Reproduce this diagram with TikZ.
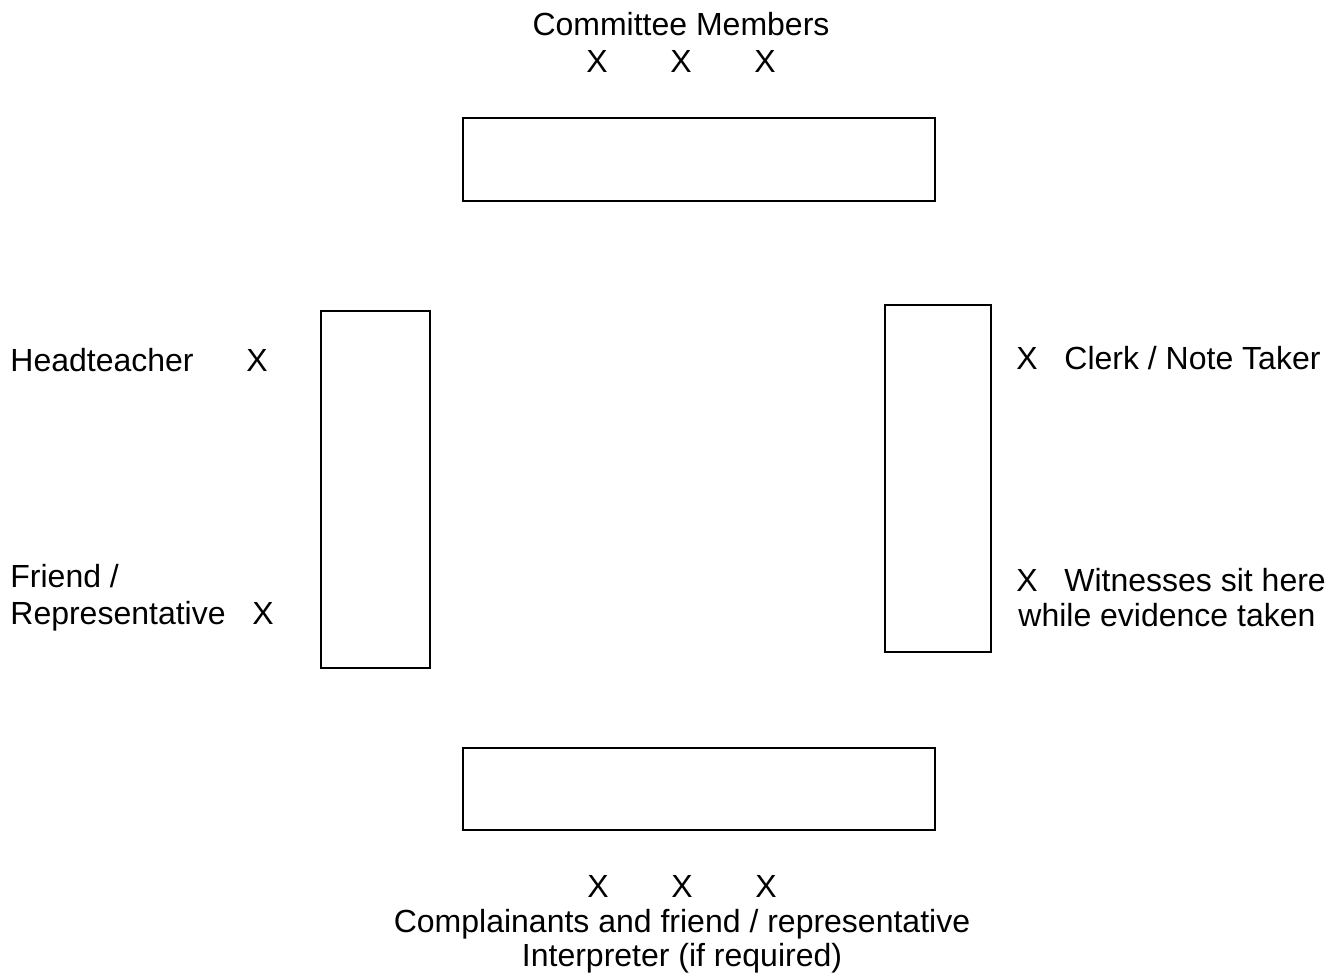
\documentclass[tikz,border=0pt]{standalone}
\usepackage{fontspec}
\setmainfont{Liberation Sans}
\tikzset{
  lbl/.style={inner sep=0pt, anchor=base},
  lblw/.style={inner sep=0pt, anchor=base west},
  desk/.style={draw, line width=1.3pt}
}
\begin{document}
\begin{tikzpicture}[x=0.5pt, y=-0.5pt, font=\fontsize{16}{18}\selectfont]
\useasboundingbox (0, 0) rectangle (1330, 977);

\draw[desk] (463, 118) rectangle (935, 201);
\draw[desk] (463, 748) rectangle (935, 830);
\draw[desk] (321, 311) rectangle (430, 668);
\draw[desk] (885, 305) rectangle (991, 652);

\node[lbl] (committee) at (681, 36) {Committee Members};
\node[lbl] (cm1) at (597, 73) {X};
\node[lbl] (cm2) at (681, 73) {X};
\node[lbl] (cm3) at (765, 73) {X};

\node[lblw] (head) at (10, 372) {Headteacher};
\node[lbl] (headx) at (257, 372) {X};
\node[lblw] (friend) at (10, 588) {Friend /};
\node[lblw] (rep) at (10, 625) {Representative};
\node[lbl] (repx) at (263, 625) {X};

\node[lbl] (clerkx) at (1027, 370) {X};
\node[lblw] (clerk) at (1064, 370) {Clerk / Note Taker};
\node[lbl] (witx) at (1027, 592) {X};
\node[lblw] (wit) at (1064, 592) {Witnesses sit here};
\node[lblw] (while) at (1018, 627) {while evidence taken};

\node[lbl] (cp1) at (598, 898) {X};
\node[lbl] (cp2) at (682, 898) {X};
\node[lbl] (cp3) at (766, 898) {X};
\node[lbl] (complain) at (682, 933) {Complainants and friend / representative};
\node[lbl] (interp) at (682, 967) {Interpreter (if required)};
\end{tikzpicture}
\end{document}
